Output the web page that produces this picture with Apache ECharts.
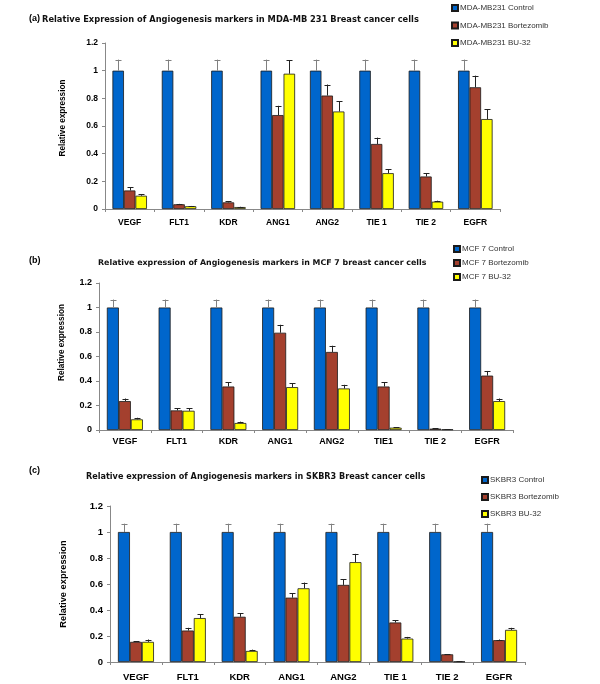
<!DOCTYPE html>
<html><head><meta charset="utf-8">
<script src="https://cdn.jsdelivr.net/npm/echarts@6/dist/echarts.min.js"></script>
<style>html,body{margin:0;padding:0;background:#fff}#c{width:600px;height:684px}</style>
</head><body><div id="c"></div>
<script>
// ---- data ----
const categoriesA = ['VEGF','FLT1','KDR','ANG1','ANG2','TIE 1','TIE 2','EGFR'];
const categoriesB = ['VEGF','FLT1','KDR','ANG1','ANG2','TIE1','TIE 2','EGFR'];
const categoriesC = ['VEGF','FLT1','KDR','ANG1','ANG2','TIE 1','TIE 2','EGFR'];
const yTickLabels = ['0','0.2','0.4','0.6','0.8','1','1.2'];

const seriesNamesA = ['MDA-MB231 Control','MDA-MB231 Bortezomib','MDA-MB231 BU-32'];
const seriesNamesB = ['MCF 7 Control','MCF 7 Bortezomib','MCF 7 BU-32'];
const seriesNamesC = ['SKBR3 Control','SKBR3 Bortezomib','SKBR3 BU-32'];

const aControl = [1,1,1,1,1,1,1,1];
const aBort    = [0.134,0.034,0.048,0.679,0.82,0.47,0.235,0.88];
const aBU      = [0.096,0.02,0.014,0.978,0.705,0.259,0.053,0.65];
const aControlErr = [0.08,0.08,0.08,0.08,0.08,0.08,0.08,0.08];
const aBortErr    = [0.022,0.003,0.007,0.067,0.08,0.046,0.022,0.084];
const aBUErr      = [0.012,0.002,0.002,0.096,0.074,0.029,0.007,0.07];

const bControl = [1,1,1,1,1,1,1,1];
const bBort    = [0.236,0.16,0.355,0.794,0.637,0.355,0.011,0.444];
const bBU      = [0.087,0.157,0.057,0.35,0.339,0.019,0.005,0.236];
const bControlErr = [0.065,0.065,0.065,0.065,0.065,0.065,0.065,0.065];
const bBortErr    = [0.021,0.016,0.033,0.065,0.051,0.033,0.002,0.038];
const bBUErr      = [0.013,0.022,0.011,0.032,0.03,0.003,0.001,0.021];

const cControl = [1,1,1,1,1,1,1,1];
const cBort    = [0.155,0.242,0.348,0.495,0.593,0.304,0.059,0.168];
const cBU      = [0.155,0.338,0.085,0.567,0.768,0.18,0.003,0.247];
const cControlErr = [0.064,0.064,0.064,0.064,0.064,0.064,0.064,0.064];
const cBortErr    = [0.005,0.021,0.026,0.033,0.044,0.018,0.002,0.005];
const cBUErr      = [0.018,0.028,0.01,0.044,0.064,0.013,0.001,0.016];

// ---- styling ----
const COLORS = ['#0066CC','#A4402E','#FFFF00'];
const ERRCOL = ['#808080','#222222','#222222'];
const FONT = 'Liberation Sans, Arial, sans-serif';
const TFONT = 'DejaVu Sans, sans-serif';

const panels = [
  {cats:categoriesA, names:seriesNamesA, vals:[aControl,aBort,aBU], errs:[aControlErr,aBortErr,aBUErr],
   grid:{left:105, top:43, width:395, height:166}, bw:11.5, tick:8.5, cat:8.5, catMargin:9,
   yname:8.2, ynameGap:38, ynamePad:[0,0,0,16], legend:{left:451, top:4, itemGap:9.5},
   title:{text:'Relative Expression of Angiogenesis markers in MDA-MB 231 Breast cancer cells', left:42, y:20, size:8.3},
   tag:{text:'(a)', left:29, y:19}},
  {cats:categoriesB, names:seriesNamesB, vals:[bControl,bBort,bBU], errs:[bControlErr,bBortErr,bBUErr],
   grid:{left:99, top:283, width:414, height:147}, bw:12, tick:9, cat:9, catMargin:7,
   yname:8.2, ynameGap:33, ynamePad:[0,0,0,28], legend:{left:453, top:245, itemGap:6},
   title:{text:'Relative expression of Angiogenesis markers in MCF 7 breast cancer cells', left:98, y:263, size:7.9},
   tag:{text:'(b)', left:29, y:261}},
  {cats:categoriesC, names:seriesNamesC, vals:[cControl,cBort,cBU], errs:[cControlErr,cBortErr,cBUErr],
   grid:{left:110, top:506, width:415, height:156}, bw:12, tick:9.5, cat:9.5, catMargin:10,
   yname:9.3, ynameGap:42, ynamePad:[0,0,0,0], legend:{left:481, top:476, itemGap:9},
   title:{text:'Relative expression of Angiogenesis markers in SKBR3 Breast cancer cells', left:86, y:477, size:8.1},
   tag:{text:'(c)', left:29, y:471}}
];

const option = {animation:false, backgroundColor:'#fff',
  title:[], legend:[], grid:[], xAxis:[], yAxis:[], series:[]};

panels.forEach((p, g) => {
  option.title.push({text:p.tag.text, left:p.tag.left, top:p.tag.y-5, padding:0,
    textStyle:{fontFamily:FONT, fontWeight:'bold', fontSize:9, lineHeight:10, color:'#000'}});
  option.title.push({text:p.title.text, left:p.title.left, top:p.title.y-5, padding:0,
    textStyle:{fontFamily:TFONT, fontWeight:'bold', fontSize:p.title.size, lineHeight:10, color:'#111'}});
  option.legend.push({data:p.names, orient:'vertical', left:p.legend.left, top:p.legend.top, padding:0,
    itemGap:p.legend.itemGap, itemWidth:6, itemHeight:6, icon:'rect',
    textStyle:{fontFamily:FONT, fontSize:8, lineHeight:8, color:'#333', padding:[0,0,0,-3]}});
  option.grid.push(Object.assign({containLabel:false}, p.grid));
  option.xAxis.push({type:'category', gridIndex:g, data:p.cats,
    axisLine:{lineStyle:{color:'#888', width:1}},
    axisTick:{show:true, length:3, lineStyle:{color:'#888'}},
    axisLabel:{fontFamily:FONT, fontWeight:'bold', fontSize:p.cat, color:'#000', margin:p.catMargin},
    splitLine:{show:false}});
  option.yAxis.push({type:'value', gridIndex:g, min:0, max:1.2, interval:0.2,
    name:'Relative expression', nameLocation:'middle', nameGap:p.ynameGap, nameRotate:90,
    nameTextStyle:{fontFamily:FONT, fontWeight:'bold', fontSize:p.yname, color:'#000', padding:p.ynamePad},
    axisLine:{show:true, lineStyle:{color:'#888', width:1}},
    axisTick:{show:true, length:3, lineStyle:{color:'#888'}},
    axisLabel:{fontFamily:FONT, fontWeight:'bold', fontSize:p.tick, color:'#000', margin:7,
      formatter:(v)=>{const i=Math.round(v/0.2); return yTickLabels[i]!==undefined?yTickLabels[i]:'';}},
    splitLine:{show:false}});
  p.names.forEach((nm, k) => {
    option.series.push({type:'bar', name:nm, xAxisIndex:g, yAxisIndex:g, data:p.vals[k],
      barWidth:p.bw, barGap:'0%',
      itemStyle:{color:COLORS[k], borderColor:'#1a1a1a', borderWidth:0.8}});
  });
  p.names.forEach((nm, k) => {
    const bw = p.bw;
    option.series.push({type:'custom', name:nm+' err', xAxisIndex:g, yAxisIndex:g, silent:true, z:5,
      data:p.vals[k].map((v,i)=>[i, v, p.errs[k][i]]),
      renderItem:(params, api) => {
        const i = api.value(0), v = api.value(1), e = api.value(2);
        const p0 = api.coord([i, v]), p1 = api.coord([i, v+e]);
        const x = Math.round(p0[0] + (k-1)*bw) + 0.5;
        const st = {stroke:ERRCOL[k], lineWidth:1};
        return {type:'group', children:[
          {type:'line', shape:{x1:x, y1:p0[1], x2:x, y2:p1[1]}, style:st},
          {type:'line', shape:{x1:x-3, y1:Math.round(p1[1])+0.5, x2:x+3, y2:Math.round(p1[1])+0.5}, style:st}
        ]};
      }});
  });
});

const chart = echarts.init(document.getElementById('c'), null, {renderer:'canvas'});
chart.setOption(option);
</script></body></html>
